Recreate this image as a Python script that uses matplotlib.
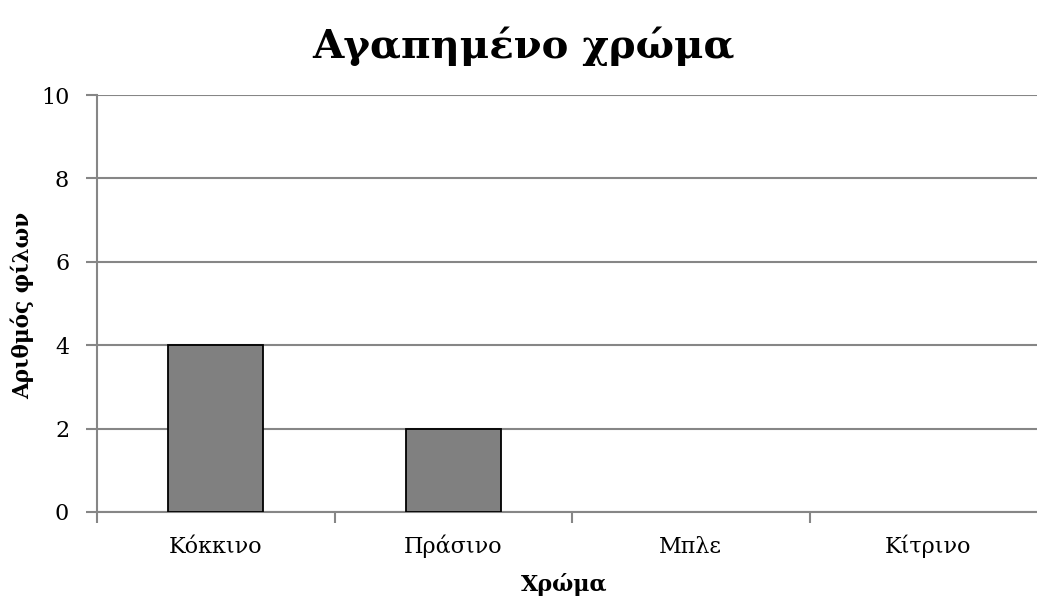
import matplotlib.pyplot as plt
import numpy as np

colours = ["Κόκκινο", "Πράσινο", "Μπλε", "Κίτρινο"]
friends = [4, 2, 0, 0]
y_ticks = [0, 2, 4, 6, 8, 10]

plt.rcParams['font.family'] = ['DejaVu Serif']

W, H = 1037, 598
fig = plt.figure(figsize=(W / 100, H / 100), dpi=100)
ax = fig.add_axes([97 / W, 1 - 512 / H, 950 / W, 417 / H])

x = np.arange(len(colours))
# empty categories get no outline so no stray line sits on the axis
edge_w = [1.3 if v else 0 for v in friends]
ax.bar(x, friends, width=0.4, color='#808080', edgecolor='black', linewidth=edge_w, zorder=3)

grid_col = '#868686'
ax.set_xlim(-0.5, len(colours) - 0.5)
ax.set_ylim(0, 10)
ax.set_yticks(y_ticks)
ax.yaxis.grid(True, color=grid_col, linewidth=1.5, zorder=0)
ax.tick_params(axis='y', length=8, width=1.5, color=grid_col, labelsize=16, pad=12)

# category labels sit between boundary ticks
ax.set_xticks(x)
ax.set_xticklabels(colours, va='baseline')
ax.set_xticks(np.arange(len(colours)) - 0.5, minor=True)
ax.tick_params(axis='x', which='major', length=0, labelsize=16, pad=29.5)
ax.tick_params(axis='x', which='minor', length=8, width=1.5, color=grid_col)

for side in ['top', 'right']:
    ax.spines[side].set_visible(False)
for side in ['left', 'bottom']:
    ax.spines[side].set_color(grid_col)
    ax.spines[side].set_linewidth(1.5)

# title is centred on the whole figure, not on the plot area
ax.set_title("Αγαπημένο χρώμα", fontsize=29, fontweight='bold',
             x=(524 - 97) / 950, y=(512 - 58) / 417, va='baseline', pad=0)

ax.set_xlabel("Χρώμα", fontsize=16, fontweight='bold')
ax.xaxis.set_label_coords((564 - 97) / 950, -(591 - 512) / 417)
ax.xaxis.label.set_va('baseline')

ax.set_ylabel("Αριθμός φίλων", fontsize=15.5, fontweight='bold')
ax.yaxis.set_label_coords(-(97 - 22) / 950, (512 - 305) / 417)
ax.yaxis.label.set_va('center')

fig.savefig("out.png", dpi=100)
